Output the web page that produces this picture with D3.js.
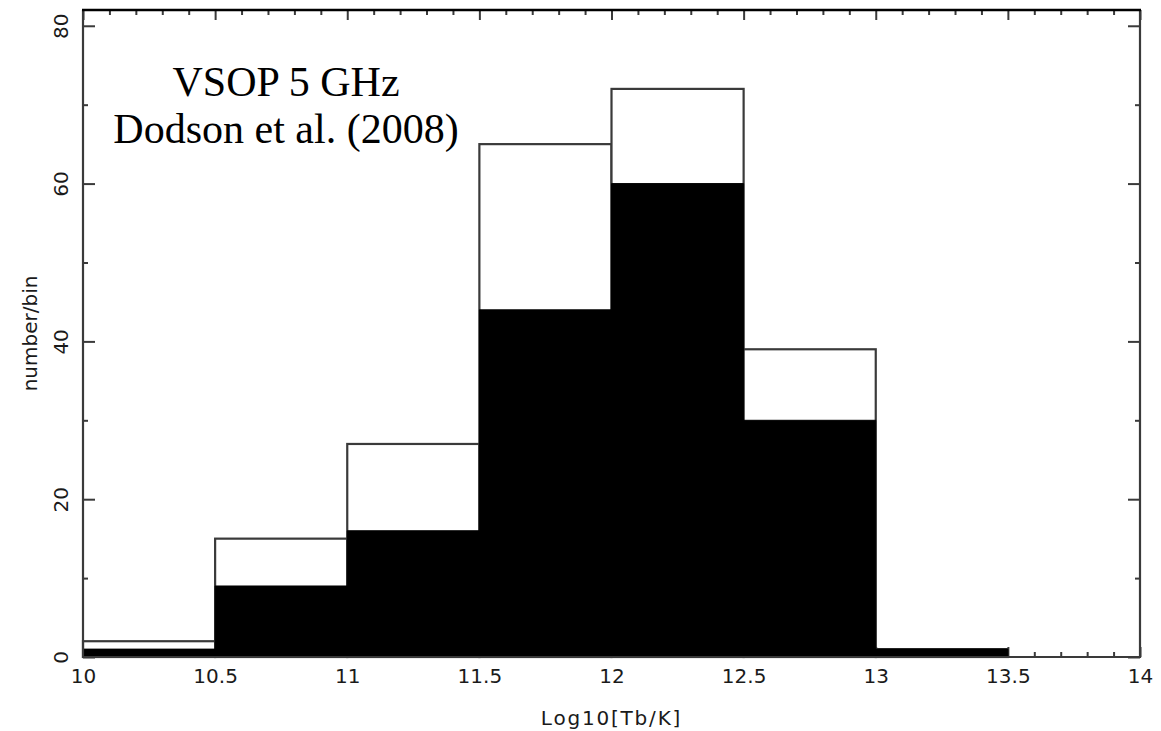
<!DOCTYPE html>
<html>
<head>
<meta charset="utf-8">
<script src="https://cdn.jsdelivr.net/npm/d3@7"></script>
<style>
  html, body { margin: 0; padding: 0; background: #fff; }
  svg { display: block; }
</style>
</head>
<body>
<svg id="chart" width="1161" height="731"></svg>
<script>
// Histogram of brightness temperatures (bins of 0.5 in log10 Tb)
const binEdges = [10, 10.5, 11, 11.5, 12, 12.5, 13, 13.5];
const totalCounts = [2, 15, 27, 65, 72, 39, 1];
const filledCounts = [1, 9, 16, 44, 60, 30, 1];

const xMajorTicks = [10, 10.5, 11, 11.5, 12, 12.5, 13, 13.5, 14];
const yMajorTicks = [0, 20, 40, 60, 80];
const xDomain = [10, 14];
const yDomain = [0, 82];

const titleLines = ["VSOP 5 GHz", "Dodson et al. (2008)"];
const xLabel = "Log10[Tb/K]";
const yLabel = "number/bin";

const W = 1161, H = 731;
const m = { left: 83, right: 21, top: 10, bottom: 74 };
const svg = d3.select("#chart");

const x = d3.scaleLinear().domain(xDomain).range([m.left, W - m.right]);
const y = d3.scaleLinear().domain(yDomain).range([H - m.bottom, m.top]);

const bins = totalCounts.map((t, i) => ({
  x0: binEdges[i], x1: binEdges[i + 1], total: t, filled: filledCounts[i]
}));

// minor tick values
const xMinor = d3.range(101, 140).map(v => v / 10).filter(v => Math.abs(v * 2 - Math.round(v * 2)) > 1e-6);
const yMinor = [10, 30, 50, 70];

const axisColor = "#3a3a3a";
const tickFont = { family: "DejaVu Sans", size: 20, fill: "#1a1a1a" };
function styleAxis(g) {
  g.select(".domain").remove();
  g.selectAll(".tick line").attr("stroke", axisColor).attr("stroke-width", 2);
}

// bottom axis (ticks point inward, drawn beneath the bars)
const gxB = svg.append("g").attr("transform", `translate(0,${y(0)})`)
  .call(d3.axisBottom(x).tickValues(xMajorTicks).tickSize(-10).tickPadding(15)
    .tickFormat(d3.format("")));
styleAxis(gxB);
gxB.selectAll(".tick text")
  .attr("font-family", tickFont.family).attr("font-size", tickFont.size).attr("fill", tickFont.fill)
  .attr("y", 26).attr("dy", 0);
svg.append("g").attr("transform", `translate(0,${y(0)})`)
  .call(d3.axisBottom(x).tickValues(xMinor).tickSize(-5).tickFormat(""))
  .call(styleAxis);

// top axis
svg.append("g").attr("transform", `translate(0,${m.top})`)
  .call(d3.axisTop(x).tickValues(xMajorTicks).tickSize(-10).tickFormat(""))
  .call(styleAxis);
svg.append("g").attr("transform", `translate(0,${m.top})`)
  .call(d3.axisTop(x).tickValues(xMinor).tickSize(-5).tickFormat(""))
  .call(styleAxis);

// left axis with rotated labels
const gyL = svg.append("g").attr("transform", `translate(${m.left},0)`)
  .call(d3.axisLeft(y).tickValues(yMajorTicks).tickSize(-12).tickFormat(d3.format("")));
styleAxis(gyL);
gyL.selectAll(".tick text")
  .attr("font-family", tickFont.family).attr("font-size", tickFont.size).attr("fill", tickFont.fill)
  .attr("x", null).attr("dy", null)
  .attr("text-anchor", "middle")
  .attr("transform", "translate(-15,0) rotate(-90)");
svg.append("g").attr("transform", `translate(${m.left},0)`)
  .call(d3.axisLeft(y).tickValues(yMinor).tickSize(-5).tickFormat(""))
  .call(styleAxis);

// right axis
svg.append("g").attr("transform", `translate(${W - m.right},0)`)
  .call(d3.axisRight(y).tickValues(yMajorTicks).tickSize(-12).tickFormat(""))
  .call(styleAxis);
svg.append("g").attr("transform", `translate(${W - m.right},0)`)
  .call(d3.axisRight(y).tickValues(yMinor).tickSize(-5).tickFormat(""))
  .call(styleAxis);

// outlined (open) bars for the full sample
svg.append("g").selectAll("rect").data(bins).join("rect")
  .attr("x", d => x(d.x0))
  .attr("width", d => x(d.x1) - x(d.x0))
  .attr("y", d => y(d.total))
  .attr("height", d => y(0) - y(d.total))
  .attr("fill", "#fff")
  .attr("stroke", "#3a3a3a")
  .attr("stroke-width", 2.2);

// solid bars for the subset, drawn as one stepped area so no seams show
const stepPts = [];
bins.forEach(d => { stepPts.push([d.x0, d.filled]); stepPts.push([d.x1, d.filled]); });
svg.append("path")
  .datum(stepPts)
  .attr("d", d3.area().x(p => x(p[0])).y0(y(0)).y1(p => y(p[1])))
  .attr("fill", "#000")
  .attr("stroke", "#000")
  .attr("stroke-width", 1);

// frame
const [x0, x1] = x.range();
const [yb, yt] = y.range();
svg.append("path")
  .attr("d", `M${x0},${yt}V${yb}H${x1}V${yt}`)
  .attr("fill", "none").attr("stroke", axisColor).attr("stroke-width", 2.2);
svg.append("line")
  .attr("x1", x0 - 1).attr("x2", x1 + 1).attr("y1", yt).attr("y2", yt)
  .attr("stroke", "#000").attr("stroke-width", 2.6);

// axis titles
svg.append("text")
  .attr("x", x(12)).attr("y", 725)
  .attr("text-anchor", "middle")
  .attr("font-family", "DejaVu Sans").attr("font-size", 20)
  .attr("letter-spacing", 1.8)
  .attr("fill", "#1a1a1a")
  .text(xLabel);

svg.append("text")
  .attr("transform", `translate(37,${y(41)}) rotate(-90)`)
  .attr("text-anchor", "middle")
  .attr("font-family", "DejaVu Sans").attr("font-size", 20)
  .attr("fill", "#1a1a1a")
  .text(yLabel);

// annotation
svg.append("g").selectAll("text").data(titleLines).join("text")
  .attr("x", 286)
  .attr("y", (d, i) => 96 + i * 47)
  .attr("text-anchor", "middle")
  .attr("font-family", "Liberation Serif, Times New Roman, serif")
  .attr("font-size", 42)
  .attr("fill", "#000")
  .text(d => d);
</script>
</body>
</html>
